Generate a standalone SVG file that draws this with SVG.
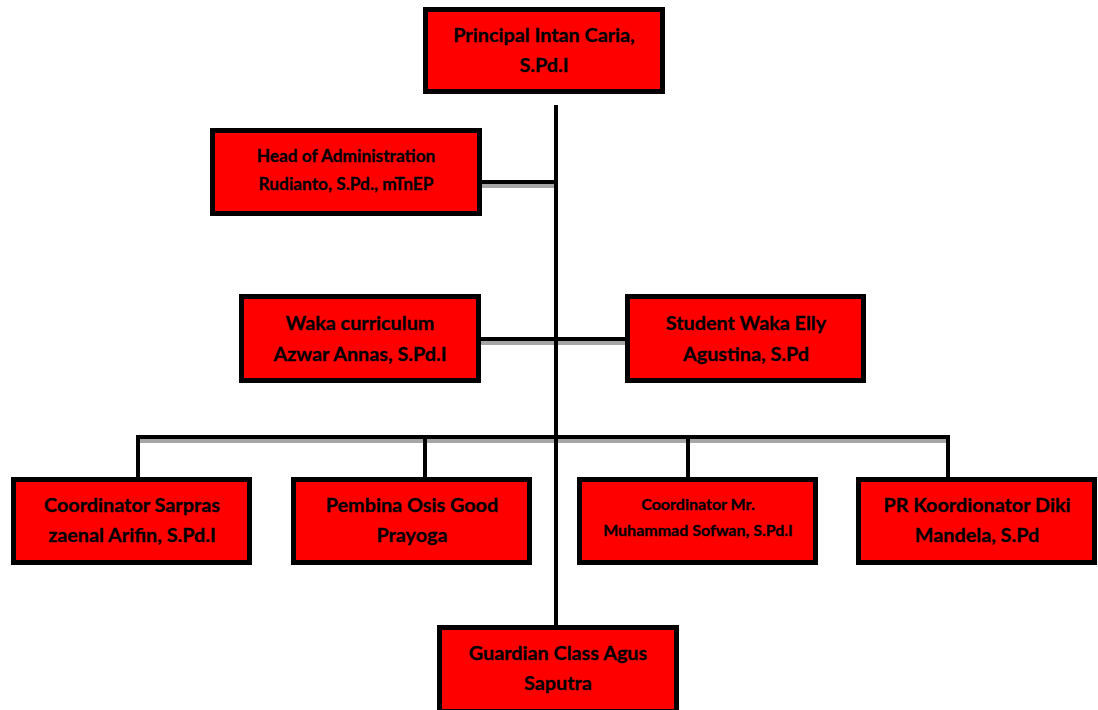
<svg xmlns="http://www.w3.org/2000/svg" width="1098" height="710" viewBox="0 0 1098 710">
<style>
.box{fill:#ff0000;stroke:#000;stroke-width:5}
.t{font-family:Lato,"Liberation Sans",sans-serif;font-weight:bold;font-size:19.8px;fill:#000;stroke:#000;stroke-width:0.3;text-anchor:middle}
.s{font-size:17.3px}
.c{font-size:16px}
.ln{stroke:#000;stroke-width:4;fill:none}
.sh{stroke:#a6a6a6;stroke-width:4;fill:none}
</style>
<rect width="1098" height="710" fill="#fff"/>
<g id="connectors">
<line class="sh" x1="482" y1="186" x2="556" y2="186"/>
<line class="sh" x1="481" y1="343" x2="625" y2="343"/>
<line class="sh" x1="140" y1="441" x2="949" y2="441"/>
<line class="ln" x1="482" y1="182" x2="556" y2="182"/>
<line class="ln" x1="481" y1="339" x2="625" y2="339"/>
<polyline class="ln" points="138,477 138,437 948,437 948,477"/>
<line class="ln" x1="425" y1="437" x2="425" y2="477"/>
<line class="ln" x1="688" y1="437" x2="688" y2="477"/>
<line class="ln" x1="556" y1="105" x2="556" y2="627"/>
</g>
<g id="principal"><rect class="box" x="425.5" y="9.5" width="237" height="82"/>
<text class="t" x="544" y="42">Principal Intan Caria,</text><text class="t" x="544" y="72">S.Pd.I</text></g>
<g id="head-admin"><rect class="box" x="212.5" y="130.5" width="267" height="83"/>
<text class="t s" x="346" y="162">Head of Administration</text><text class="t s" x="346" y="190">Rudianto, S.Pd., mTnEP</text></g>
<g id="waka-curriculum"><rect class="box" x="241.5" y="296.5" width="237" height="84"/>
<text class="t" x="360" y="330">Waka curriculum</text><text class="t" x="360" y="361">Azwar Annas, S.Pd.I</text></g>
<g id="student-waka"><rect class="box" x="627.5" y="296.5" width="236" height="84"/>
<text class="t" x="746" y="330">Student Waka Elly</text><text class="t" x="746" y="361">Agustina, S.Pd</text></g>
<g id="sarpras"><rect class="box" x="13.5" y="479.5" width="236" height="83"/>
<text class="t" x="132" y="512">Coordinator Sarpras</text><text class="t" x="132" y="542">zaenal Arifin, S.Pd.I</text></g>
<g id="pembina"><rect class="box" x="293.5" y="479.5" width="236" height="83"/>
<text class="t" x="412" y="512">Pembina Osis Good</text><text class="t" x="412" y="542">Prayoga</text></g>
<g id="coordinator-mr"><rect class="box" x="579.5" y="479.5" width="236" height="83"/>
<text class="t c" x="698" y="510">Coordinator Mr.</text><text class="t c" x="698" y="536">Muhammad Sofwan, S.Pd.I</text></g>
<g id="pr-koordionator"><rect class="box" x="858.5" y="479.5" width="236" height="83"/>
<text class="t" x="977" y="512">PR Koordionator Diki</text><text class="t" x="977" y="542">Mandela, S.Pd</text></g>
<g id="guardian"><rect class="box" x="439.5" y="627.5" width="237" height="84"/>
<text class="t" x="558" y="660">Guardian Class Agus</text><text class="t" x="558" y="690">Saputra</text></g>
</svg>
